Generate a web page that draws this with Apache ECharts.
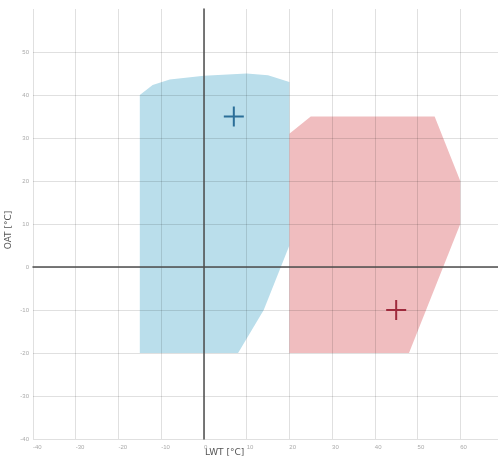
<!DOCTYPE html>
<html>
<head>
<meta charset="utf-8">
<script src="https://cdn.jsdelivr.net/npm/echarts@6/dist/echarts.min.js"></script>
<style>html,body{margin:0;padding:0;background:#fff}#c{width:498px;height:466px}</style>
</head>
<body>
<div id="c"></div>
<script>
// Operating envelopes: [LWT °C, OAT °C]
const coolingEnvelope = [[-15,-20],[-15,40],[-12,42.3],[-8,43.6],[0,44.5],[10,45],[15,44.6],[20,43],[20,5],[14,-10],[8,-20]];
const heatingEnvelope = [[20,-20],[20,31],[25,35],[54,35],[60,20],[60,10],[48,-20]];
const coolingPoint = [[7,35]];
const heatingPoint = [[45,-10]];
const xTicks = {min:-40, max:70, interval:10};
const yTicks = {min:-40, max:60, interval:10};

const chart = echarts.init(document.getElementById('c'));
const plus = 'path://M-1,-10 H1 V-1 H10 V1 H1 V10 H-1 V1 H-10 V-1 H-1 Z';
function polySeries(points, color) {
  return {
    type: 'custom',
    data: [0],
    silent: true,
    z: 1,
    renderItem: function (params, api) {
      return {
        type: 'polygon',
        shape: { points: points.map(p => api.coord(p)) },
        style: { fill: color }
      };
    }
  };
}
chart.setOption({
  animation: false,
  grid: { left: 33, top: 9, width: 470, height: 430, outerBoundsMode: 'none', containLabel: false },
  xAxis: {
    type: 'value', min: xTicks.min, max: xTicks.max, interval: xTicks.interval, z: 3,
    axisLine: { onZero: true, lineStyle: { color: '#4d4d4d', width: 1.5 } },
    axisTick: { show: false },
    axisLabel: { fontSize: 6, color: '#aaa', align: 'left', margin: 5 },
    splitLine: { show: true, lineStyle: { color: 'rgba(0,0,0,0.12)', width: 1 } }
  },
  yAxis: {
    type: 'value', min: yTicks.min, max: yTicks.max, interval: yTicks.interval, z: 3,
    axisLine: { onZero: true, lineStyle: { color: '#4d4d4d', width: 1.5 } },
    axisTick: { show: false },
    axisLabel: { fontSize: 6, color: '#aaa', margin: 4, showMaxLabel: false },
    splitLine: { show: true, showMaxLine: false, lineStyle: { color: 'rgba(0,0,0,0.12)', width: 1 } }
  },
  graphic: [
    { type: 'text', left: 205, top: 448, style: { text: 'LWT [°C]', fontSize: 9, fill: '#555', fontFamily: 'DejaVu Sans' } },
    { type: 'text', x: 9, y: 230, rotation: Math.PI / 2, style: { text: 'OAT [°C]', fontSize: 9, fill: '#555', fontFamily: 'DejaVu Sans', align: 'center', verticalAlign: 'middle' } }
  ],
  series: [
    polySeries(coolingEnvelope, 'rgb(186,222,235)'),
    polySeries(heatingEnvelope, 'rgb(240,189,191)'),
    { type: 'scatter', data: coolingPoint, symbol: plus, symbolSize: 20, itemStyle: { color: '#2b6e98', opacity: 1 }, z: 5 },
    { type: 'scatter', data: heatingPoint, symbol: plus, symbolSize: 20, itemStyle: { color: '#9e2a3c', opacity: 1 }, z: 5 }
  ]
});
</script>
</body>
</html>
